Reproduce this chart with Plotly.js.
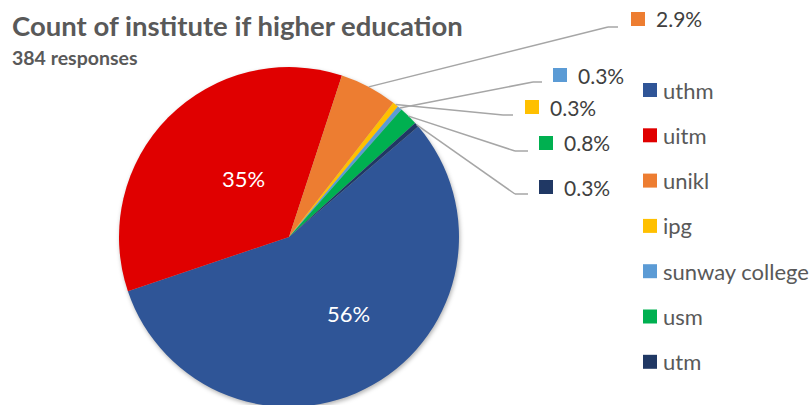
<!DOCTYPE html>
<html><head><meta charset="utf-8">
<script src="https://cdn.plot.ly/plotly-3.0.1.min.js"></script>
<style>html,body{margin:0;padding:0;overflow:hidden;background:#fff}#chart{width:812px;height:412px}
.pielayer .trace{filter:drop-shadow(1px 2px 2px rgba(0,0,0,0.3));}</style>
</head><body><div id="chart"></div>
<script>
// ---- data ----
const institutes = ['uthm', 'uitm', 'unikl', 'ipg', 'sunway college', 'usm', 'utm'];
const responses = [215, 135, 21, 2.1, 1.7, 6.9, 1.7];
const shownLabels = ['56%', '35%', '2.9%', '0.3%', '0.3%', '0.8%', '0.3%'];
const colors = ['#2F5597', '#E00000', '#ED7D31', '#FFC000', '#5B9BD5', '#00B050', '#203864'];
const titleText = 'Count of institute if higher education';
const subtitleText = '384 responses';

// ---- layout geometry (pixels) ----
const W = 812, H = 412;
const cx = 289, cy = 237, R = 170;
const startAngle = 49.5;
const px = x => x / W, py = y => 1 - y / H;
const FONT = 'Lato, "Open Sans", sans-serif';
const TXT = '#595959';

// inside label placement: [x, y]
const inside = {0: [348, 313], 1: [243, 178]};
// outside label placement: [elbowX, elbowY, endX, endY, squareX, labelY]
const outside = {
  2: [608, 27, 618, 27, 631, 19],
  4: [533, 82, 542, 82, 553, 75],
  3: [503, 115, 513, 115, 525, 107],
  5: [515, 151, 528, 151, 539, 143],
  6: [515, 194, 528, 194, 539, 187]
};
const legendX = 643, legendY0 = 90, legendDy = 45.3;

const shapes = [], annotations = [];
const total = responses.reduce((a, b) => a + b, 0);
let cum = 0;
responses.forEach((v, i) => {
  const mid = startAngle + 360 * (cum + v / 2) / total;
  cum += v;
  if (inside[i]) {
    annotations.push({xref: 'paper', yref: 'paper', x: px(inside[i][0]), y: py(inside[i][1]), xanchor: 'center', yanchor: 'middle', showarrow: false, text: shownLabels[i], font: {family: FONT, size: 22, color: '#FFFFFF'}});
  }
  const o = outside[i];
  if (!o) return;
  const rad = mid * Math.PI / 180;
  const sx = cx + R * Math.sin(rad), sy = cy - R * Math.cos(rad);
  const line = {color: '#A6A6A6', width: 1.5};
  shapes.push({type: 'line', xref: 'paper', yref: 'paper', x0: px(sx), y0: py(sy), x1: px(o[0]), y1: py(o[1]), line});
  shapes.push({type: 'line', xref: 'paper', yref: 'paper', x0: px(o[0]), y0: py(o[1]), x1: px(o[2]), y1: py(o[3]), line});
  shapes.push({type: 'rect', xref: 'paper', yref: 'paper', x0: px(o[4]), x1: px(o[4] + 14), y0: py(o[5] - 7), y1: py(o[5] + 7), fillcolor: colors[i], line: {width: 0}});
  annotations.push({xref: 'paper', yref: 'paper', x: px(o[4] + 23), y: py(o[5]), xanchor: 'left', yanchor: 'middle', showarrow: false, text: shownLabels[i], font: {family: FONT, size: 21, color: '#404040'}});
});

institutes.forEach((name, i) => {
  const y = legendY0 + i * legendDy;
  shapes.push({type: 'rect', xref: 'paper', yref: 'paper', x0: px(legendX), x1: px(legendX + 14), y0: py(y - 7), y1: py(y + 7), fillcolor: colors[i], line: {width: 0}});
  annotations.push({xref: 'paper', yref: 'paper', x: px(legendX + 18), y: py(y), xanchor: 'left', yanchor: 'middle', showarrow: false, text: name, font: {family: FONT, size: 22, color: TXT}});
});

annotations.push({xref: 'paper', yref: 'paper', x: px(10), y: py(26), xanchor: 'left', yanchor: 'middle', showarrow: false, text: '<b>' + titleText + '</b>', font: {family: FONT, size: 27.5, color: TXT}});
annotations.push({xref: 'paper', yref: 'paper', x: px(10), y: py(57), xanchor: 'left', yanchor: 'middle', showarrow: false, text: '<b>' + subtitleText + '</b>', font: {family: FONT, size: 19.5, color: TXT}});

const trace = {
  type: 'pie',
  labels: institutes,
  values: responses,
  text: shownLabels,
  textinfo: 'none',
  marker: {colors: colors, line: {width: 0}},
  sort: false,
  direction: 'clockwise',
  rotation: startAngle,
  hoverinfo: 'label+value',
  domain: {x: [px(cx - R), px(cx + R)], y: [py(cy + R), py(cy - R)]},
  showlegend: false
};

Plotly.newPlot('chart', [trace], {
  width: W, height: H,
  margin: {l: 0, r: 0, t: 0, b: 0},
  paper_bgcolor: '#FFFFFF',
  showlegend: false,
  shapes, annotations
}, {displayModeBar: false, staticPlot: true});
</script></body></html>
